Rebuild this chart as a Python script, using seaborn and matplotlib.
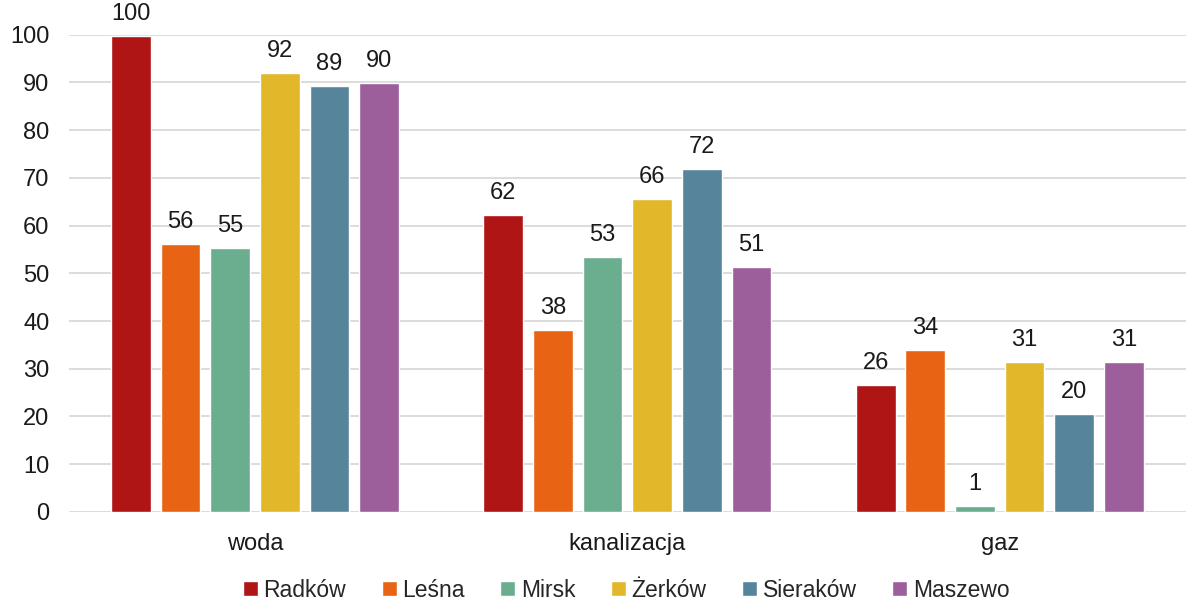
import matplotlib
matplotlib.use("Agg")
import matplotlib.pyplot as plt
import pandas as pd
import seaborn as sns

# data
categories = ["woda", "kanalizacja", "gaz"]
gminy = ["Radków", "Leśna", "Mirsk", "Żerków", "Sieraków", "Maszewo"]
radkow = [99.7, 62.2, 26.5]
lesna = [56.1, 38.1, 33.9]
mirsk = [55.2, 53.4, 1.2]
zerkow = [91.9, 65.6, 31.3]
sierakow = [89.2, 71.8, 20.4]
maszewo = [89.8, 51.3, 31.3]
colors = ["#B01515", "#E86414", "#6AAE8F", "#E3B72A", "#55849B", "#9D5F9B"]

series = [radkow, lesna, mirsk, zerkow, sierakow, maszewo]
rows = []
for name, vals in zip(gminy, series):
    for cat, v in zip(categories, vals):
        rows.append({"kategoria": cat, "gmina": name, "wartosc": v})
df = pd.DataFrame(rows)

sns.set_style("white")
plt.rcParams["font.family"] = ["Liberation Sans", "DejaVu Sans"]
fs = 17

fig = plt.figure(figsize=(11.86, 6), dpi=100)
ax = fig.add_axes([0.058, 0.147, 0.942, 0.795])

sns.barplot(data=df, x="kategoria", y="wartosc", hue="gmina",
            order=categories, hue_order=gminy, palette=colors,
            width=0.8, gap=0.2, saturation=1, errorbar=None, ax=ax, zorder=3)

for cont in ax.containers:
    labels = [f"{b.get_height():.0f}" for b in cont]
    ax.bar_label(cont, labels=labels, padding=8, fontsize=fs, color="#1a1a1a", clip_on=False)

ax.set_ylim(0, 100)
ax.set_yticks(range(0, 101, 10))
ax.set_xlim(-0.5, 2.5)
ax.yaxis.grid(True, color="#d9d9d9", linewidth=1.3, zorder=0)
ax.set_axisbelow(True)
for s in ax.spines.values():
    s.set_visible(False)
ax.set_xlabel("")
ax.set_ylabel("")
ax.tick_params(axis="both", length=0, labelsize=fs, colors="#1a1a1a")
ax.tick_params(axis="x", pad=15)
ax.tick_params(axis="y", pad=14)

handles, labels = ax.get_legend_handles_labels()
ax.get_legend().remove()
fig.legend(handles, labels, loc="center", bbox_to_anchor=(0.528, 0.016),
           ncol=6, frameon=False, fontsize=16.5, handlelength=0.65, handleheight=0.65,
           handletextpad=0.25, columnspacing=1.55, borderpad=0)

fig.savefig("out.png", dpi=100)
